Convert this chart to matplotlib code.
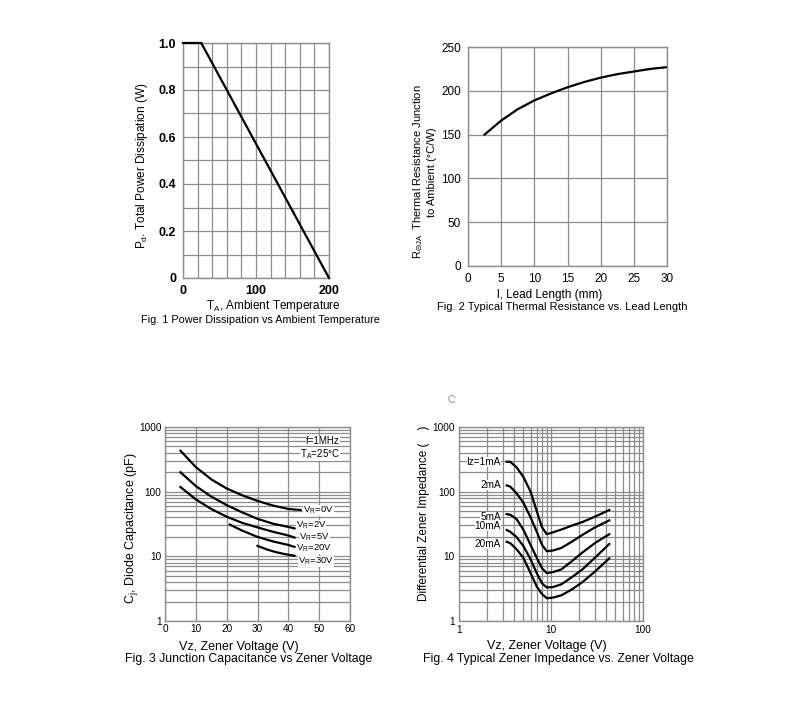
import matplotlib
matplotlib.use("Agg")
import matplotlib.pyplot as plt
from matplotlib.ticker import MultipleLocator, LogLocator, NullFormatter, FixedLocator

plt.rcParams["font.family"] = ["Liberation Sans", "DejaVu Sans"]
plt.rcParams["mathtext.fontset"] = "custom"
plt.rcParams["mathtext.rm"] = "Liberation Sans"

W, H = 800, 728
GRID = "#8c8c8c"

# --- Fig. 1: power derating ---
ta = [0, 25, 200]
pd_w = [1.0, 1.0, 0.0]

# --- Fig. 2: thermal resistance vs lead length ---
lead_mm = [2.5, 5, 7.5, 10, 12.5, 15, 17.5, 20, 22.5, 25, 27.5, 30]
r_theta = [150, 166, 179, 189, 197, 204, 210, 215, 219, 222, 225, 227]

# --- Fig. 3: junction capacitance ---
cap_labels = ["0V", "2V", "5V", "20V", "30V"]
cap_vz = [
    [5, 10, 15, 20, 25, 30, 35, 40, 44],
    [5, 10, 15, 20, 25, 30, 35, 40, 42],
    [5, 10, 15, 20, 25, 30, 35, 40, 42],
    [21, 25, 30, 35, 40, 42],
    [30, 33, 36, 39, 42],
]
cap_pf = [
    [430, 240, 155, 112, 88, 72, 61, 54, 52],
    [200, 122, 84, 62, 48, 38, 32, 28.5, 27],
    [118, 76, 54, 41, 33, 28, 24, 21, 19.5],
    [31, 25, 20, 17, 15, 14],
    [14.5, 12.8, 11.6, 10.8, 10.2],
]
cap_label_x = [44.8, 42.4, 43.5, 42.6, 43.2]
cap_label_y = [51, 30, 19.8, 13.2, 8.3]

# --- Fig. 4: zener impedance ---
iz_labels = ["Iz=1mA", "2mA", "5mA", "10mA", "20mA"]
iz_vz = [3.3, 3.6, 4.2, 5.0, 6.0, 7.0, 8.0, 9.0, 10.5, 13, 17, 22, 30, 43]
iz_ohm = [
    [290, 290, 240, 170, 100, 50, 28, 22, 23.5, 26, 30, 34, 41, 52],
    [125, 120, 95, 68, 40, 24, 15, 12, 12.3, 13.5, 17, 21.5, 28, 36],
    [45, 44, 38, 26, 15, 9.5, 6.5, 5.5, 5.7, 6.3, 8.5, 11.5, 16, 22],
    [25.5, 24, 20, 14.5, 9, 5.5, 3.8, 3.3, 3.35, 3.7, 4.8, 6.3, 9.5, 15.5],
    [16.8, 16, 13, 9.5, 5.5, 3.4, 2.6, 2.25, 2.3, 2.5, 3.1, 4.0, 5.8, 9.3],
]
iz_label_y = [290, 125, 41, 29, 15.5]


def frac(px, py):
    return px / W, 1 - py / H


def add_axes(left, top, right, bottom):
    l, t = frac(left, top)
    r, b = frac(right, bottom)
    return fig.add_axes([l, b, r - l, t - b])


def style(ax, size=9, pad=5):
    for s in ax.spines.values():
        s.set_color(GRID)
        s.set_linewidth(1.0)
    ax.grid(True, which="both", color=GRID, linewidth=0.9)
    ax.set_axisbelow(True)
    ax.tick_params(which="both", length=0, labelsize=size, pad=pad)


def ftext(px, py, s, **kw):
    x, y = frac(px, py)
    kw.setdefault("ha", "center")
    kw.setdefault("va", "center")
    fig.text(x, y, s, **kw)


WHITE = dict(facecolor="white", edgecolor="none", pad=0.0)

fig = plt.figure(figsize=(W / 100, H / 100), dpi=100)

# Fig. 1
ax1 = add_axes(183, 43, 329, 278)
style(ax1)
ax1.plot(ta, pd_w, color="black", linewidth=1.6, clip_on=False, zorder=3)
ax1.set_xlim(0, 200)
ax1.set_ylim(0, 1.0)
ax1.xaxis.set_major_locator(MultipleLocator(100))
ax1.xaxis.set_minor_locator(MultipleLocator(20))
ax1.yaxis.set_major_locator(MultipleLocator(0.2))
ax1.yaxis.set_minor_locator(MultipleLocator(0.1))
ax1.set_yticklabels(["0" if v == 0 else f"{v:.1f}" for v in ax1.get_yticks()])
for lab in ax1.get_xticklabels() + ax1.get_yticklabels():
    lab.set_fontweight("bold")
ftext(142, 166, r"P$_\mathregular{d}$. Total Power Dissipation (W)", fontsize=8.5, rotation=90)
ftext(273, 306, r"T$_\mathregular{A}$, Ambient Temperature", fontsize=8.5)
ftext(260, 320, "Fig. 1 Power Dissipation vs Ambient Temperature", fontsize=7.8)

# Fig. 2
ax2 = add_axes(468, 47, 667, 266)
style(ax2, 8.5)
ax2.plot(lead_mm, r_theta, color="black", linewidth=1.6)
ax2.set_xlim(0, 30)
ax2.set_ylim(0, 250)
ax2.xaxis.set_major_locator(MultipleLocator(5))
ax2.yaxis.set_major_locator(MultipleLocator(50))
ftext(424, 172, "R$_\\mathregular{\\Theta JA}$  Thermal Resistance Junction\nto Ambient (°C/W)",
      fontsize=8, rotation=90, multialignment="center")
ftext(550, 295, "l, Lead Length (mm)", fontsize=8.5)
ftext(562, 307, "Fig. 2 Typical Thermal Resistance vs. Lead Length", fontsize=8)

# Fig. 3
ax3 = add_axes(165, 427, 350, 621)
style(ax3, 7.2, pad=2.5)
ax3.set_yscale("log")
ax3.set_xlim(0, 60)
ax3.set_ylim(1, 1000)
ax3.xaxis.set_major_locator(MultipleLocator(10))
ax3.yaxis.set_major_locator(FixedLocator([1, 10, 100, 1000]))
ax3.yaxis.set_minor_locator(LogLocator(base=10, subs=range(2, 10)))
ax3.yaxis.set_minor_formatter(NullFormatter())
ax3.set_yticklabels(["1", "10", "100", "1000"])
for xs, ys, lab, lx, ly in zip(cap_vz, cap_pf, cap_labels, cap_label_x, cap_label_y):
    ax3.plot(xs, ys, color="black", linewidth=1.6)
    ax3.text(lx, ly, "V$_\\mathregular{R}$=" + lab, fontsize=6.8, va="center", ha="left",
             bbox=WHITE)
ax3.text(56.7, 600, "f=1MHz", fontsize=7, ha="right", va="center", bbox=WHITE)
ax3.text(56.7, 387, "T$_\\mathregular{A}$=25°C", fontsize=7, ha="right", va="center",
         bbox=WHITE)
ftext(132, 528, "C$_\\mathregular{j}$, Diode Capacitance (pF)", fontsize=9, rotation=90)
ftext(239, 647, "Vz, Zener Voltage (V)", fontsize=9)
ftext(249, 659, "Fig. 3 Junction Capacitance vs Zener Voltage", fontsize=8.8)

# Fig. 4
ax4 = add_axes(459, 427, 643, 621)
style(ax4, 7.2, pad=3)
ax4.set_xscale("log")
ax4.set_yscale("log")
ax4.set_xlim(1, 100)
ax4.set_ylim(1, 1000)
for axis in (ax4.xaxis, ax4.yaxis):
    axis.set_minor_locator(LogLocator(base=10, subs=range(2, 10)))
    axis.set_minor_formatter(NullFormatter())
ax4.xaxis.set_major_locator(FixedLocator([1, 10, 100]))
ax4.set_xticklabels(["1", "10", "100"])
ax4.yaxis.set_major_locator(FixedLocator([1, 10, 100, 1000]))
ax4.set_yticklabels(["1", "10", "100", "1000"])
for ys, lab, ly in zip(iz_ohm, iz_labels, iz_label_y):
    ax4.plot(iz_vz, ys, color="black", linewidth=1.6)
    ax4.text(2.85, ly, lab, fontsize=7.2, va="center", ha="right", bbox=WHITE)
ftext(424, 513, "Differential Zener Impedance (    )", fontsize=8.5, rotation=90)
ftext(547, 646, "Vz, Zener Voltage (V)", fontsize=9)
ftext(558, 659, "Fig. 4 Typical Zener Impedance vs. Zener Voltage", fontsize=8.8)
ftext(452, 400, "C:", fontsize=7, color="#888888")

fig.savefig("out.png", dpi=100, facecolor="white")
